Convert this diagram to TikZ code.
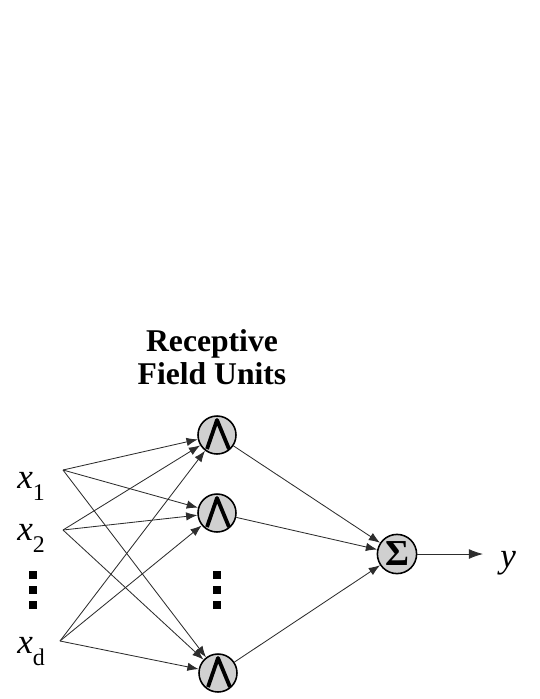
\documentclass[tikz,border=0pt]{standalone}
\usepackage{fontspec}
\setmainfont{Liberation Serif}
\usetikzlibrary{arrows.meta, positioning}
\definecolor{rbfgray}{RGB}{208,208,208}
\definecolor{rbfline}{RGB}{45,45,45}

\newcommand{\xin}[1]{\textit{x}\raisebox{-0.36em}{\fontsize{17}{17}\selectfont #1}}

\begin{document}
\begin{tikzpicture}[x=0.025cm, y=-0.025cm,
  unit/.style={circle, draw=black, fill=rbfgray, line width=1.1pt, minimum size=0.95cm, inner sep=0pt},
  link/.style={draw=rbfline, line width=0.6pt, -{Latex[length=8pt,width=6pt]}},
  bump/.style={line width=2.7pt, line join=round},
  dotsq/.style={fill=black, minimum size=0.2cm, inner sep=0pt},
  inlabel/.style={font=\fontsize{25}{25}\selectfont, anchor=base west, inner sep=0pt}]

\useasboundingbox (0,0) rectangle (540,699);

% Title over the hidden layer
\node[font=\bfseries\fontsize{22.5}{23}\selectfont, align=center, inner sep=0pt] (title) at (212,357) {Receptive\\Field Units};

% Inputs
\coordinate (i1) at (63,470);
\coordinate (i2) at (63,530);
\coordinate (i3) at (60,641);
\node[inlabel] (l1) at (17,488) {\xin{1}};
\node[inlabel] (l2) at (17,540) {\xin{2}};
\node[inlabel] (l3) at (17,653) {\xin{d}};

% Receptive field units
\node[unit] (h1) at (217,435) {};
\node[unit] (h2) at (217,513) {};
\node[unit] (h3) at (218,673) {};
\foreach \i in {1,2,3}
  \draw[bump] ([shift={(-10,14)}]h\i.center) -- ([shift={(0,-15)}]h\i.center) -- ([shift={(12,14)}]h\i.center);

% Vertical dots
\foreach \y [count=\k] in {575,590,605} {
  \node[dotsq] (da\k) at (33,\y) {};
  \node[dotsq] (db\k) at (217,\y) {};
}

% Output unit
\node[unit, minimum size=0.98cm] (s) at (397,554) {\bfseries\fontsize{26}{26}\selectfont Σ};
\coordinate (out) at (483,554);
\node[inlabel] (ylab) at (500,567) {\textit{y}};

% Connections
\foreach \a in {1,2,3}
  \foreach \b in {1,2,3}
    \draw[link] (i\a) -- (h\b);
\foreach \b in {1,2,3}
  \draw[link] (h\b) -- (s);
\draw[link, -{Latex[length=10pt,width=7pt]}] (s) -- (out);

\end{tikzpicture}
\end{document}
